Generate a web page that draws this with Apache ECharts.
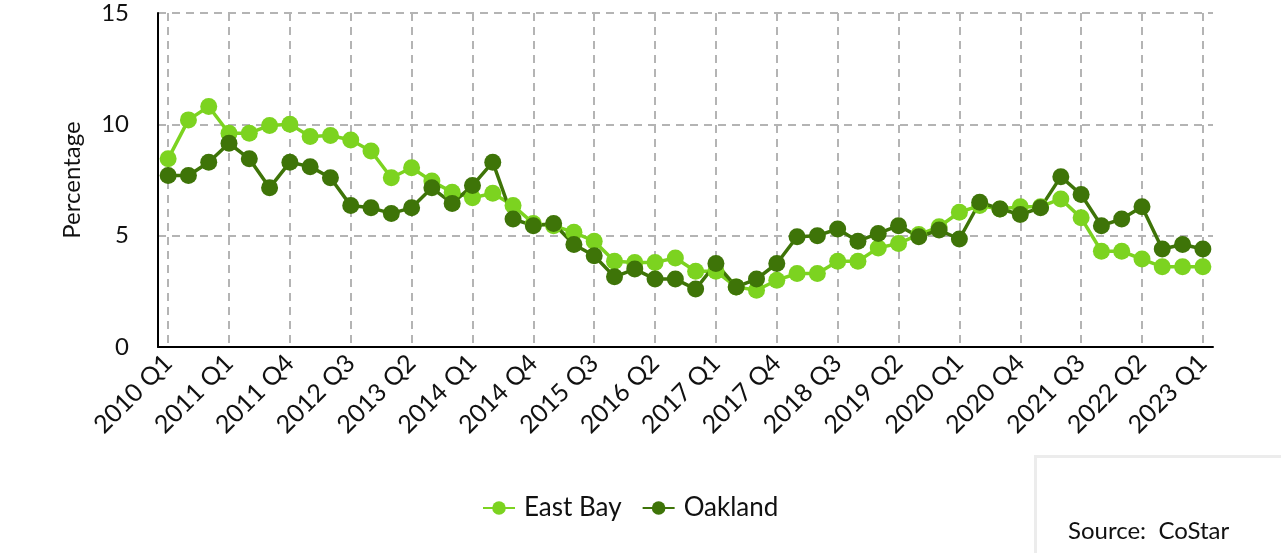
<!DOCTYPE html>
<html>
<head>
<meta charset="utf-8">
<script src="https://cdn.jsdelivr.net/npm/echarts@6/dist/echarts.min.js"></script>
<style>
  html, body { margin: 0; padding: 0; background: #fff; }
  #chart { width: 1281px; height: 553px; }
</style>
</head>
<body>
<div id="chart"></div>
<script>
// quarters shown on the x axis (labels every 3rd entry)
const quarters = [
  "2010 Q1", "2010 Q3", "2010 Q4",
  "2011 Q1", "2011 Q2", "2011 Q3", "2011 Q4",
  "2012 Q1", "2012 Q2", "2012 Q3", "2012 Q4",
  "2013 Q1", "2013 Q2", "2013 Q3", "2013 Q4",
  "2014 Q1", "2014 Q2", "2014 Q3", "2014 Q4",
  "2015 Q1", "2015 Q2", "2015 Q3", "2015 Q4",
  "2016 Q1", "2016 Q2", "2016 Q3", "2016 Q4",
  "2017 Q1", "2017 Q2", "2017 Q3", "2017 Q4",
  "2018 Q1", "2018 Q2", "2018 Q3", "2018 Q4",
  "2019 Q1", "2019 Q2", "2019 Q3", "2019 Q4",
  "2020 Q1", "2020 Q2", "2020 Q3", "2020 Q4",
  "2021 Q1", "2021 Q2", "2021 Q3", "2021 Q4",
  "2022 Q1", "2022 Q2", "2022 Q3", "2022 Q4",
  "2023 Q1"
];

const eastBay = [
  8.45, 10.2, 10.8, 9.6, 9.6, 9.95, 10.0, 9.45, 9.5, 9.3,
  8.8, 7.6, 8.05, 7.45, 6.95, 6.7, 6.9, 6.35, 5.55, 5.45,
  5.15, 4.75, 3.85, 3.8, 3.8, 4.0, 3.4, 3.4, 2.7, 2.55,
  3.0, 3.3, 3.3, 3.85, 3.85, 4.45, 4.65, 5.05, 5.4, 6.05,
  6.35, 6.2, 6.3, 6.3, 6.65, 5.8, 4.3, 4.3, 3.95, 3.6,
  3.6, 3.6
];

const oakland = [
  7.7, 7.7, 8.3, 9.15, 8.45, 7.15, 8.3, 8.1, 7.6, 6.35,
  6.25, 6.0, 6.25, 7.15, 6.45, 7.25, 8.3, 5.75, 5.45, 5.55,
  4.6, 4.1, 3.15, 3.5, 3.05, 3.05, 2.6, 3.75, 2.7, 3.05,
  3.75, 4.95, 5.0, 5.3, 4.75, 5.1, 5.45, 4.95, 5.25, 4.85,
  6.5, 6.2, 5.95, 6.25, 7.65, 6.85, 5.45, 5.75, 6.3, 4.4,
  4.6, 4.4
];

const yTicks = [0, 5, 10, 15];

const FONT = "Lato";
const LIGHT = "#7cd320";
const DARK = "#3e7408";

const chart = echarts.init(document.getElementById("chart"));

chart.setOption({
  animation: false,
  textStyle: { fontFamily: FONT },
  grid: {
    left: 158,
    right: 68,
    top: 13,
    bottom: 206
  },
  legend: {
    top: 490,
    left: 477,
    itemWidth: 32,
    itemHeight: 17,
    itemGap: 20,
    textStyle: { fontFamily: FONT, fontSize: 26, color: "#111", padding: [0, 0, 0, 4] },
    data: ["East Bay", "Oakland"]
  },
  xAxis: {
    type: "category",
    data: quarters,
    boundaryGap: true,
    axisLine: { lineStyle: { color: "#000", width: 2 } },
    axisTick: { show: false },
    axisLabel: {
      interval: 2,
      rotate: 45,
      margin: 12,
      fontFamily: FONT,
      fontSize: 25,
      color: "#111"
    },
    splitLine: {
      show: true,
      interval: 2,
      alignWithLabel: true,
      lineStyle: { color: "#b4b4b4", width: 2, type: [8, 6] }
    }
  },
  yAxis: {
    type: "value",
    min: yTicks[0],
    max: yTicks[yTicks.length - 1],
    interval: 5,
    name: "Percentage",
    nameLocation: "middle",
    nameGap: 74,
    nameTextStyle: { fontFamily: FONT, fontSize: 24, color: "#111" },
    axisLine: { show: true, lineStyle: { color: "#000", width: 2 } },
    axisTick: { show: false },
    axisLabel: {
      margin: 29,
      fontFamily: FONT,
      fontSize: 24,
      color: "#111"
    },
    splitLine: {
      show: true,
      lineStyle: { color: "#b4b4b4", width: 2, type: [8, 6] }
    }
  },
  graphic: [
    {
      type: "rect",
      left: 1034,
      top: 455,
      shape: { width: 260, height: 110 },
      style: { fill: "#fff", stroke: "#ececec", lineWidth: 3 }
    },
    {
      type: "text",
      left: 1068,
      top: 519,
      style: {
        text: "Source:  CoStar",
        font: "24px Lato",
        fill: "#111"
      }
    }
  ],
  series: [
    {
      name: "East Bay",
      type: "line",
      data: eastBay,
      symbol: "circle",
      symbolSize: 17,
      showAllSymbol: true,
      itemStyle: { color: LIGHT },
      lineStyle: { color: LIGHT, width: 3.5 }
    },
    {
      name: "Oakland",
      type: "line",
      data: oakland,
      symbol: "circle",
      symbolSize: 17,
      showAllSymbol: true,
      itemStyle: { color: DARK },
      lineStyle: { color: DARK, width: 3.5 }
    }
  ]
});
</script>
</body>
</html>
